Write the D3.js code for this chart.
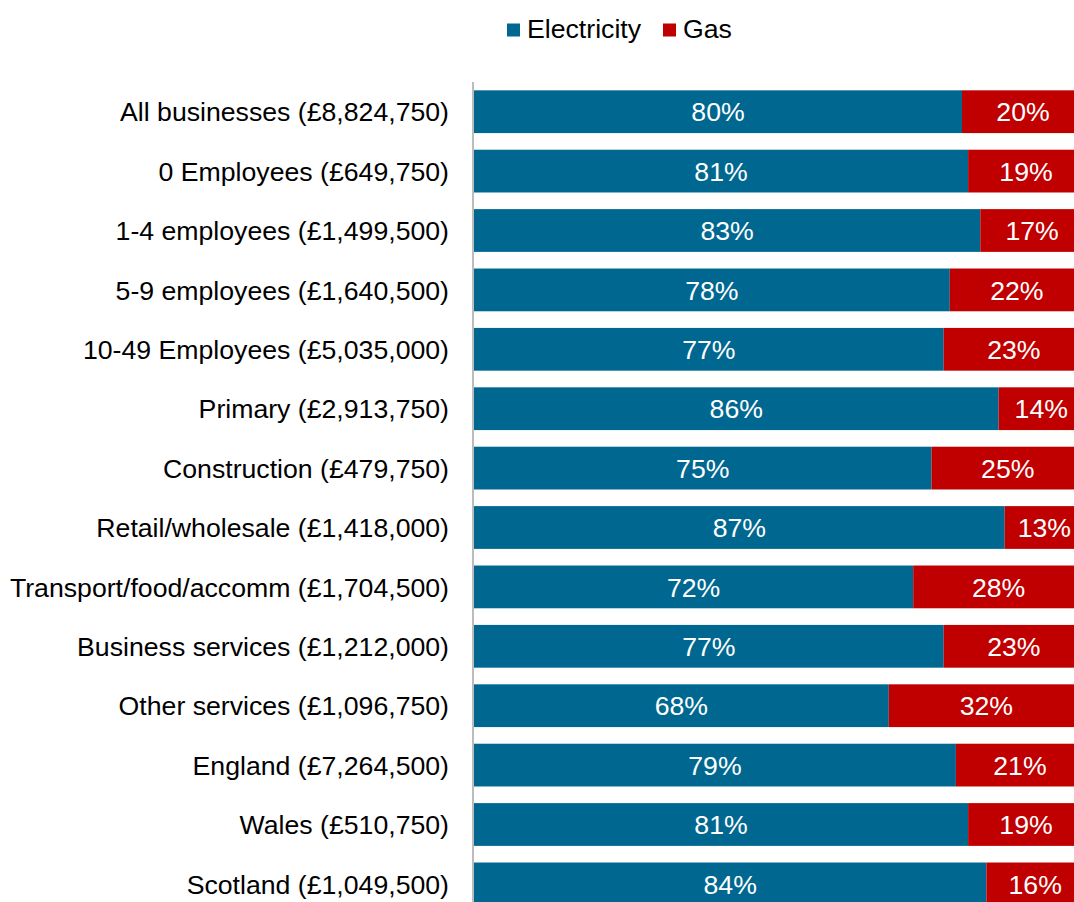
<!DOCTYPE html>
<html>
<head>
<meta charset="utf-8">
<script src="https://cdn.jsdelivr.net/npm/d3@7"></script>
<style>
    body { margin: 0; background: #fff; }
    svg { display: block; font-family: "Liberation Sans", Arial, sans-serif; }
</style>
</head>
<body>
<div id="chart"></div>
<script>
    const categories = [
        'All businesses (£8,824,750)',
        '0 Employees (£649,750)',
        '1-4 employees (£1,499,500)',
        '5-9 employees (£1,640,500)',
        '10-49 Employees (£5,035,000)',
        'Primary (£2,913,750)',
        'Construction (£479,750)',
        'Retail/wholesale (£1,418,000)',
        'Transport/food/accomm (£1,704,500)',
        'Business services (£1,212,000)',
        'Other services (£1,096,750)',
        'England (£7,264,500)',
        'Wales (£510,750)',
        'Scotland (£1,049,500)'
    ];
    const electricity = [80, 81, 83, 78, 77, 86, 75, 87, 72, 77, 68, 79, 81, 84];
    const gas = [20, 19, 17, 22, 23, 14, 25, 13, 28, 23, 32, 21, 19, 16];
    const seriesNames = ['Electricity', 'Gas'];
    const seriesColors = ['#006890', '#C00000'];

    const width = 1074, height = 902;
    const margin = {top: 82, left: 474};
    const fontSize = '26.67px';

    const rows = categories.map((c, i) => ({name: c, Electricity: electricity[i], Gas: gas[i]}));
    const stacked = d3.stack().keys(seriesNames)(rows);

    // plot area runs past the right edge of the picture (cropped chart)
    const xScale = d3.scaleLinear()
        .domain([0, 100])
        .range([margin.left, margin.left + 610]);

    const yScale = d3.scaleBand()
        .domain(categories)
        .range([margin.top, margin.top + categories.length * 59.4])
        .paddingInner(0.28)
        .paddingOuter(0.14);

    const colorScale = d3.scaleOrdinal().domain(seriesNames).range(seriesColors);

    const svg = d3.select('#chart').append('svg')
        .attr('width', width)
        .attr('height', height);

    const layers = svg.append('g').selectAll('g')
        .data(stacked)
        .enter()
        .append('g')
        .attr('fill', d => colorScale(d.key));

    layers.selectAll('rect')
        .data(d => d)
        .enter()
        .append('rect')
        .attr('x', d => xScale(d[0]))
        .attr('y', d => yScale(d.data.name))
        .attr('width', d => xScale(d[1]) - xScale(d[0]))
        .attr('height', yScale.bandwidth());

    // value labels centred in each segment
    layers.selectAll('text')
        .data(d => d)
        .enter()
        .append('text')
        .attr('x', d => (xScale(d[0]) + xScale(d[1])) / 2)
        .attr('y', d => yScale(d.data.name) + yScale.bandwidth() / 2)
        .attr('dy', '0.36em')
        .attr('text-anchor', 'middle')
        .attr('fill', '#fff')
        .style('font-size', fontSize)
        .text(d => `${d[1] - d[0]}%`);

    const yAxis = d3.axisLeft(yScale).tickSize(0).tickPadding(24);
    const gYAxis = svg.append('g')
        .attr('transform', `translate(${margin.left - 1},0)`)
        .call(yAxis);
    gYAxis.select('.domain')
        .attr('stroke', '#a6a6a6')
        .attr('stroke-width', 1.5)
        .attr('d', `M0,${margin.top}V${height + 20}`);
    gYAxis.selectAll('text')
        .attr('fill', '#000')
        .attr('dy', '0.36em')
        .style('font-size', fontSize)
        .style('font-family', '"Liberation Sans", Arial, sans-serif');

    // legend
    const legend = svg.append('g').attr('transform', 'translate(507,30)');
    const legendOffsets = [0, 156];
    seriesNames.forEach((s, i) => {
        const g = legend.append('g').attr('transform', `translate(${legendOffsets[i]},0)`);
        g.append('rect')
            .attr('x', 0).attr('y', -6.5)
            .attr('width', 13).attr('height', 13)
            .attr('fill', colorScale(s));
        g.append('text')
            .attr('x', 20).attr('y', 8)
            .style('font-size', fontSize)
            .attr('fill', '#000')
            .text(s);
    });
</script>
</body>
</html>
